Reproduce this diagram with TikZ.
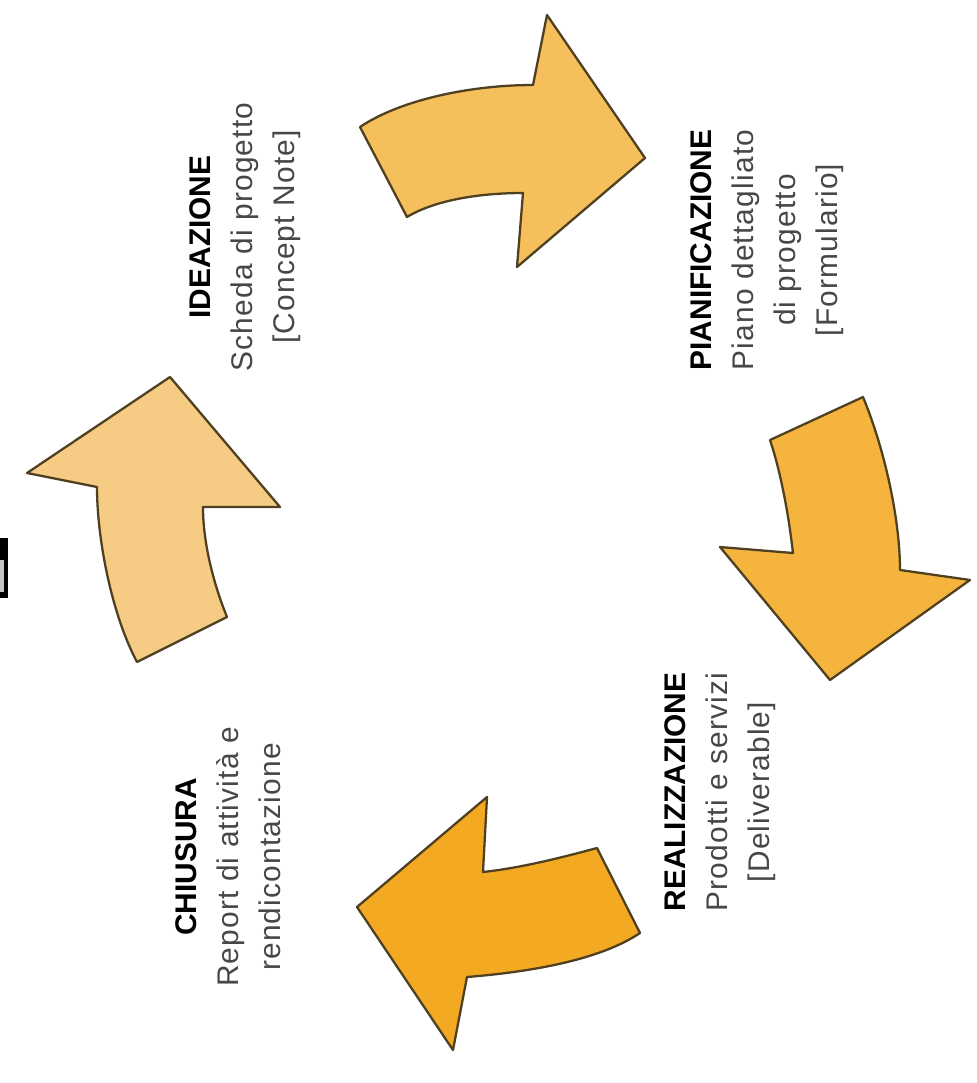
\documentclass[tikz,border=0pt]{standalone}
\usepackage{fontspec}
\setmainfont{Liberation Sans}
\newfontfamily\spreadfont[LetterSpace=4]{Liberation Sans}
\usepackage{xcolor}
\usepackage{tikz}

\definecolor{pale}{HTML}{F6CC84}
\definecolor{light}{HTML}{F5BF5C}
\definecolor{mid}{HTML}{F5B43E}
\definecolor{deep}{HTML}{F4A922}
\definecolor{rim}{HTML}{4E4020}

\newcommand{\phasetitle}[1]{{\normalfont\bfseries\color{black}#1}}

\begin{document}
\begin{tikzpicture}[x=0.02cm,y=-0.02cm,
    bigarrow/.style={draw=rim,line width=1.3pt,line join=round},
    phase/.style={rotate=90,align=center,text=black!72,
                  font=\spreadfont\fontsize{17}{23.8}\selectfont}]
    \useasboundingbox (0,0) rectangle (977,1083);
    % cut-off mark on the left edge
    \fill[black] (0,538) rectangle (8,598);
    \fill[gray!45] (0,560) rectangle (4,592);
    % Chiusura -> Ideazione
    \filldraw[bigarrow,fill=pale] (227,617) .. controls (212,580) and (203,540) .. (203,507)
        -- (280,507) -- (170,377) -- (27,473) -- (97,487)
        .. controls (97,540) and (112,615) .. (137,662) -- cycle;
    % Ideazione -> Pianificazione
    \filldraw[bigarrow,fill=light] (360,127) .. controls (400,100) and (470,85) .. (533,85)
        -- (547,15) -- (645,158) -- (517,267) -- (523,193)
        .. controls (480,193) and (435,200) .. (407,217) -- cycle;
    % Pianificazione -> Realizzazione
    \filldraw[bigarrow,fill=mid] (863,397) .. controls (885,450) and (900,520) .. (900,570)
        -- (970,580) -- (830,680) -- (720,547) -- (793,553)
        .. controls (788,510) and (780,470) .. (770,440) -- cycle;
    % Realizzazione -> Chiusura
    \filldraw[bigarrow,fill=deep] (640,933) -- (597,848)
        .. controls (560,858) and (520,868) .. (483,872)
        -- (487,797) -- (357,907) -- (453,1050) -- (467,977)
        .. controls (530,972) and (600,960) .. (640,933) -- cycle;
    % Labels
    \node[phase] (ideazione) at (245,237)
        {\phasetitle{IDEAZIONE}\\Scheda di progetto\\{[}Concept Note{]}};
    \node[phase] (pianificazione) at (767,250)
        {\phasetitle{PIANIFICAZIONE}\\Piano dettagliato\\di progetto\\{[}Formulario{]}};
    \node[phase] (realizzazione) at (720,792)
        {\phasetitle{REALIZZAZIONE}\\Prodotti e servizi\\{[}Deliverable{]}};
    \node[phase] (chiusura) at (228,857)
        {\phasetitle{CHIUSURA}\\Report di attività e\\rendicontazione};
\end{tikzpicture}
\end{document}
